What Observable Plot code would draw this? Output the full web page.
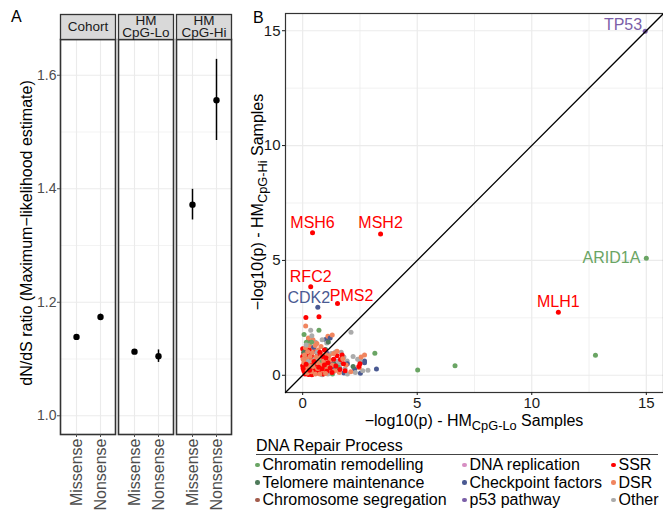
<!DOCTYPE html>
<html>
<head>
<meta charset="utf-8">
<script src="https://cdn.jsdelivr.net/npm/d3@7"></script>
<script src="https://cdn.jsdelivr.net/npm/@observablehq/plot@0.6"></script>
<style>
  body { margin: 0; background: #fff; }
  #root { position: relative; width: 663px; height: 510px; overflow: hidden; font-family: "Liberation Sans", Arial, Helvetica, sans-serif; color: #000; }
  .abs { position: absolute; white-space: nowrap; }
  .rot { transform: translate(-50%, -50%) rotate(-90deg); }
  .ctr { transform: translate(-50%, -50%); }
  sub { font-size: 0.8em; vertical-align: -0.35em; line-height: 0; }
  #legend { position: absolute; left: 253px; top: 456px; display: grid; grid-auto-flow: column;
            grid-template-rows: repeat(3, 17.5px); grid-template-columns: 207px 149px auto; font-size: 16px; }
  .item { display: flex; align-items: center; line-height: 17.5px; }
  .sw { width: 4.5px; height: 4.5px; border-radius: 50%; margin: 0 3px 0 2px; }
</style>
</head>
<body>
<div id="root"></div>
<script>
// ---------- Panel A data ----------
const groups = ["Cohort", "HM CpG-Lo", "HM CpG-Hi"];
const groupLabels = ["Cohort", "HM\nCpG-Lo", "HM\nCpG-Hi"];
const types = ["Missense", "Nonsense"];
const estCohort = [1.139, 1.174];
const loCohort  = [1.137, 1.169];
const hiCohort  = [1.141, 1.179];
const estLo = [1.113, 1.105];
const loLo  = [1.111, 1.094];
const hiLo  = [1.115, 1.116];
const estHi = [1.372, 1.556];
const loHi  = [1.345, 1.485];
const hiHi  = [1.399, 1.628];
const yDomainA = [0.967, 1.663];
const yMajorA = [1.0, 1.2, 1.4, 1.6];
const yMinorA = [1.1, 1.3, 1.5];
const yTitleA = "dN/dS ratio (Maximum\u2212likelihood estimate)";

// ---------- Panel B data ----------
const categories = ["Chromatin remodelling", "Telomere maintenance", "Chromosome segregation",
  "DNA replication", "Checkpoint factors", "p53 pathway", "SSR", "DSR", "Other"];
const catColors = ["#6aa564", "#4e7a5a", "#a35c4c", "#d78fc3", "#4a5a92", "#7b5fa8", "#ff0000", "#f0855f", "#ababab"];

const ptsOther = [[2.11,1.87],[0.35,1.96],[0.56,1.44],[1.43,1.01],[1.94,0.62],[2.85,0.22],[0.40,1.72],[0.85,1.55],
  [1.05,1.40],[0.15,1.32],[1.25,0.95],[1.60,0.42],[2.30,0.12],[1.85,0.28],[0.70,0.15],[1.10,0.05],[0.52,0.70],
  [1.38,0.18],[2.50,0.62],[2.20,0.82],[0.98,0.50],[1.68,1.00],[2.62,0.20],[1.55,0.60],[0.25,0.60],[0.85,0.02],
  [1.95,0.05],[2.40,0.70],[0.62,1.00],[1.80,0.80]];
const ptsChromatin = [[12.78,0.87],[6.65,0.42],[5.02,0.23],[3.15,0.96],[0.06,1.78],[0.71,1.96],[0.16,1.44],
  [0.39,1.44],[2.49,0.69],[0.22,0.35],[0.62,0.42],[1.02,0.25],[0.78,0.62],[1.30,0.05],[0.10,0.75],[1.55,0.35]];
const ptsTelomere = [[1.00,1.12],[0.30,0.85],[0.50,0.50],[0.12,0.30],[0.90,0.30],[0.68,0.82],[1.40,0.50],
  [0.20,0.12],[1.18,0.12],[2.20,0.38],[0.05,1.00],[1.12,1.45]];
const ptsChromSeg = [[0.25,1.50],[0.60,0.58],[1.15,0.38],[0.82,0.08],[0.40,0.45],[1.60,0.55],[0.10,0.12]];
const ptsDnaRep = [[0.92,0.38],[0.42,0.22],[1.48,0.62],[0.70,0.25],[1.25,0.18]];
const ptsCheckpoint = [[1.00,1.56],[1.20,1.62],[2.70,0.62],[2.70,0.55],[3.22,0.27],[2.52,0.09],[2.27,0.26],
  [1.62,0.30],[1.22,0.58],[0.48,1.22],[0.15,0.75],[1.80,0.10],[1.35,0.35],[0.90,0.12],[1.95,0.50],[0.30,0.05]];
const ptsP53 = [[0.25,1.08],[0.82,0.60],[0.55,0.32],[1.08,0.95]];
const ptsDSR = [[0.13,2.14],[1.10,1.70],[1.29,1.75],[0.25,1.62],[0.45,1.55],[0.62,1.38],[0.30,1.28],[0.80,1.25],
  [0.12,1.20],[0.48,1.18],[0.68,1.10],[0.22,1.02],[0.42,0.98],[0.82,0.92],[1.00,0.90],[1.15,0.85],[0.08,0.88],
  [0.32,0.82],[0.58,0.80],[0.72,0.75],[0.18,0.70],[0.40,0.62],[0.92,0.62],[1.20,0.65],[0.05,0.55],[0.65,0.55],
  [0.28,0.42],[0.80,0.45],[1.05,0.38],[1.30,0.45],[0.45,0.38],[0.15,0.28],[0.65,0.30],[0.90,0.22],[1.15,0.25],
  [1.40,0.20],[0.38,0.15],[0.55,0.05],[0.75,0.05],[1.00,0.08],[1.60,0.12],[1.90,0.45],[2.47,0.33],[2.70,0.88],
  [2.55,0.80],[2.10,0.15],[1.50,1.05],[1.35,0.95],[0.20,0.10],[0.02,0.70],[1.75,0.72],[0.55,1.30]];
const ptsSSR = [[0.14,2.52],[0.71,2.55],[0.00,1.15],[0.12,1.10],[0.30,1.12],[0.05,0.98],[0.20,0.95],[0.38,0.90],
  [0.55,1.05],[0.65,0.92],[0.00,0.82],[0.15,0.80],[0.28,0.72],[0.45,0.75],[0.60,0.68],[0.08,0.62],[0.22,0.55],
  [0.36,0.50],[0.52,0.45],[0.00,0.42],[0.12,0.38],[0.28,0.32],[0.42,0.28],[0.58,0.22],[0.05,0.20],[0.18,0.15],
  [0.32,0.12],[0.48,0.08],[0.62,0.10],[0.78,0.12],[0.90,0.06],[0.10,0.05],[0.25,0.03],[0.40,0.02],[0.70,0.35],
  [0.85,0.28],[0.95,0.45],[1.05,0.18],[1.20,0.32],[1.35,0.70],[1.50,0.85],[1.72,0.88],[1.65,0.69],[1.78,0.50],
  [0.88,0.82],[0.75,1.00],[1.10,0.55],[1.28,0.12],[1.45,0.40],[1.62,0.25],[0.30,0.22],[0.15,0.48],[0.02,0.30],
  [1.02,0.75],[0.50,0.60],[1.85,0.20],[0.95,1.10],[2.50,0.50],[2.45,0.38]];

const geneNames = ["TP53", "ARID1A", "MLH1", "MSH6", "MSH2", "RFC2", "PMS2", "CDK2"];
const geneX = [14.95, 15.00, 11.16, 0.43, 3.40, 0.35, 1.52, 0.66];
const geneY = [14.98, 5.10, 2.74, 6.20, 6.15, 3.85, 3.12, 2.96];
const geneCat = ["p53 pathway", "Chromatin remodelling", "SSR", "SSR", "SSR", "SSR", "SSR", "Checkpoint factors"];

const domainB = [-0.75, 15.75];
const majorB = [0, 5, 10, 15];
const minorB = [2.5, 7.5, 12.5];
const legendTitle = "DNA Repair Process";

// ---------- build tables ----------
const dataA = [];
[[estCohort, loCohort, hiCohort], [estLo, loLo, hiLo], [estHi, loHi, hiHi]].forEach(([e, l, h], gi) => {
  types.forEach((t, ti) => dataA.push({group: groups[gi], type: t, est: e[ti], lo: l[ti], hi: h[ti]}));
});

// points listed gene by gene across categories (round-robin), as in a per-gene table
const catPts = [ptsChromatin, ptsTelomere, ptsChromSeg, ptsDnaRep, ptsCheckpoint, ptsP53, ptsSSR, ptsDSR, ptsOther];
const scatter = [];
const maxLen = d3.max(catPts, a => a.length);
for (let k = 0; k < maxLen; k++) {
  [8, 6, 7, 0, 1, 2, 3, 4, 5].forEach(i => {
    if (k < catPts[i].length) scatter.push({x: catPts[i][k][0], y: catPts[i][k][1], cat: categories[i]});
  });
}
const genes = geneNames.map((g, i) => ({gene: g, x: geneX[i], y: geneY[i], cat: geneCat[i]}));
genes.forEach(g => scatter.push({x: g.x, y: g.y, cat: g.cat}));

const FONT = '"Liberation Sans", Arial, Helvetica, sans-serif';
const root = document.getElementById("root");

// ---------- Panel A ----------
const gridCol = "#ebebeb";
const frameH = 510 - 39 - 76;
const plotA = Plot.plot({
  width: 236, height: 510,
  marginLeft: 60, marginRight: 5, marginTop: 39, marginBottom: 76,
  style: {fontFamily: FONT, background: "transparent", overflow: "visible"},
  fx: {domain: groups, paddingInner: 0.052, paddingOuter: 0, label: null},
  x: {type: "point", domain: types, padding: 0.6, label: null},
  y: {domain: yDomainA, label: null},
  marks: [
    Plot.gridY(yMinorA, {stroke: gridCol, strokeOpacity: 1, strokeWidth: 0.6}),
    Plot.gridY(yMajorA, {stroke: gridCol, strokeOpacity: 1, strokeWidth: 1.1}),
    Plot.gridX(types, {stroke: gridCol, strokeOpacity: 1, strokeWidth: 1.1}),
    Plot.frame({stroke: "#333", strokeWidth: 1.6}),
    Plot.frame({fill: "#d9d9d9", stroke: "#333", strokeWidth: 1.3, insetTop: -25, insetBottom: frameH}),
    Plot.axisFx({anchor: "top", tickSize: 0, tickPadding: 12.5, lineAnchor: "middle", fontSize: 13.5,
      lineHeight: 0.9, color: "#1a1a1a", label: null,
      tickFormat: g => groupLabels[groups.indexOf(g)]}),
    Plot.axisY(yMajorA, {tickSize: 3, tickPadding: 1, fontSize: 14, color: "#4d4d4d", label: null,
      tickFormat: d => d.toFixed(1)}),
    Plot.axisX({tickRotate: -90, tickSize: 3, tickPadding: 1, fontSize: 16, color: "#4d4d4d", label: null}),
    Plot.ruleX(dataA, {fx: "group", x: "type", y1: "lo", y2: "hi", stroke: "black", strokeWidth: 1.5}),
    Plot.dot(dataA, {fx: "group", x: "type", y: "est", fill: "black", r: 3.2})
  ]
});
plotA.style.position = "absolute"; plotA.style.left = "0px"; plotA.style.top = "0px";
root.appendChild(plotA);

// ---------- Panel B ----------
const plotB = Plot.plot({
  width: 423, height: 430,
  marginLeft: 45, marginRight: 0, marginTop: 13, marginBottom: 38,
  style: {fontFamily: FONT, background: "transparent", overflow: "visible"},
  x: {domain: domainB, label: null},
  y: {domain: domainB, label: null},
  color: {domain: categories, range: catColors},
  marks: [
    Plot.gridX(minorB, {stroke: gridCol, strokeOpacity: 1, strokeWidth: 0.7}),
    Plot.gridY(minorB, {stroke: gridCol, strokeOpacity: 1, strokeWidth: 0.7}),
    Plot.gridX(majorB, {stroke: gridCol, strokeOpacity: 1, strokeWidth: 1.2}),
    Plot.gridY(majorB, {stroke: gridCol, strokeOpacity: 1, strokeWidth: 1.2}),
    Plot.frame({stroke: "#333", strokeWidth: 1.2}),
    Plot.axisX(majorB, {tickSize: 3, tickPadding: 2, fontSize: 15, color: "#1a1a1a", label: null}),
    Plot.axisY(majorB, {tickSize: 3, tickPadding: 2, fontSize: 15, color: "#1a1a1a", label: null}),
    Plot.dot(scatter, {x: "x", y: "y", fill: "cat", r: 2.5}),
    Plot.line(domainB.map(v => [v, v]), {stroke: "black", strokeWidth: 1.3}),
    Plot.text(genes, {filter: d => d.gene === "TP53", x: "x", y: "y", text: "gene", fill: "cat",
      textAnchor: "end", dx: -3, dy: -6, fontSize: 16}),
    Plot.text(genes, {filter: d => d.gene === "ARID1A", x: "x", y: "y", text: "gene", fill: "cat",
      textAnchor: "end", dx: -6, dy: 0, fontSize: 16}),
    Plot.text(genes, {filter: d => ["MLH1", "MSH6", "RFC2"].includes(d.gene), x: "x", y: "y", text: "gene",
      fill: "cat", dy: -10, fontSize: 16}),
    Plot.text(genes, {filter: d => d.gene === "MSH2", x: "x", y: "y", text: "gene", fill: "cat",
      dy: -11, fontSize: 16}),
    Plot.text(genes, {filter: d => d.gene === "PMS2", x: "x", y: "y", text: "gene", fill: "cat",
      dx: 14, dy: -8, fontSize: 16}),
    Plot.text(genes, {filter: d => d.gene === "CDK2", x: "x", y: "y", text: "gene", fill: "cat",
      dx: -9, dy: -9, fontSize: 16})
  ]
});
plotB.style.position = "absolute"; plotB.style.left = "240px"; plotB.style.top = "0px";
root.appendChild(plotB);

// ---------- text overlays ----------
function addDiv(html, css) {
  const d = document.createElement("div");
  d.className = "abs " + (css.cls || "");
  d.innerHTML = html;
  Object.assign(d.style, css.style);
  root.appendChild(d);
  return d;
}
addDiv("A", {style: {left: "11px", top: "9px", fontSize: "16px", lineHeight: "16px"}});
addDiv("B", {style: {left: "253px", top: "10px", fontSize: "16px", lineHeight: "16px"}});
addDiv(yTitleA, {cls: "rot", style: {left: "27px", top: "233px", fontSize: "16px", lineHeight: "16px"}});
addDiv("\u2212log10(p) - HM<sub>CpG-Hi</sub> Samples",
  {cls: "rot", style: {left: "258px", top: "202px", fontSize: "16px", lineHeight: "16px"}});
addDiv("\u2212log10(p) - HM<sub>CpG-Lo</sub> Samples",
  {cls: "ctr", style: {left: "474px", top: "421px", fontSize: "16px", lineHeight: "16px"}});
addDiv(legendTitle, {style: {left: "256px", top: "437px", width: "402px", fontSize: "16px", lineHeight: "17px",
  borderBottom: "1.3px solid #444"}});

// ---------- legend ----------
const leg = document.createElement("div");
leg.id = "legend";
categories.forEach((c, i) => {
  const it = document.createElement("div");
  it.className = "item";
  const sw = document.createElement("span");
  sw.className = "sw";
  sw.style.background = catColors[i];
  it.appendChild(sw);
  it.appendChild(document.createTextNode(c));
  leg.appendChild(it);
});
root.appendChild(leg);
</script>
</body>
</html>
